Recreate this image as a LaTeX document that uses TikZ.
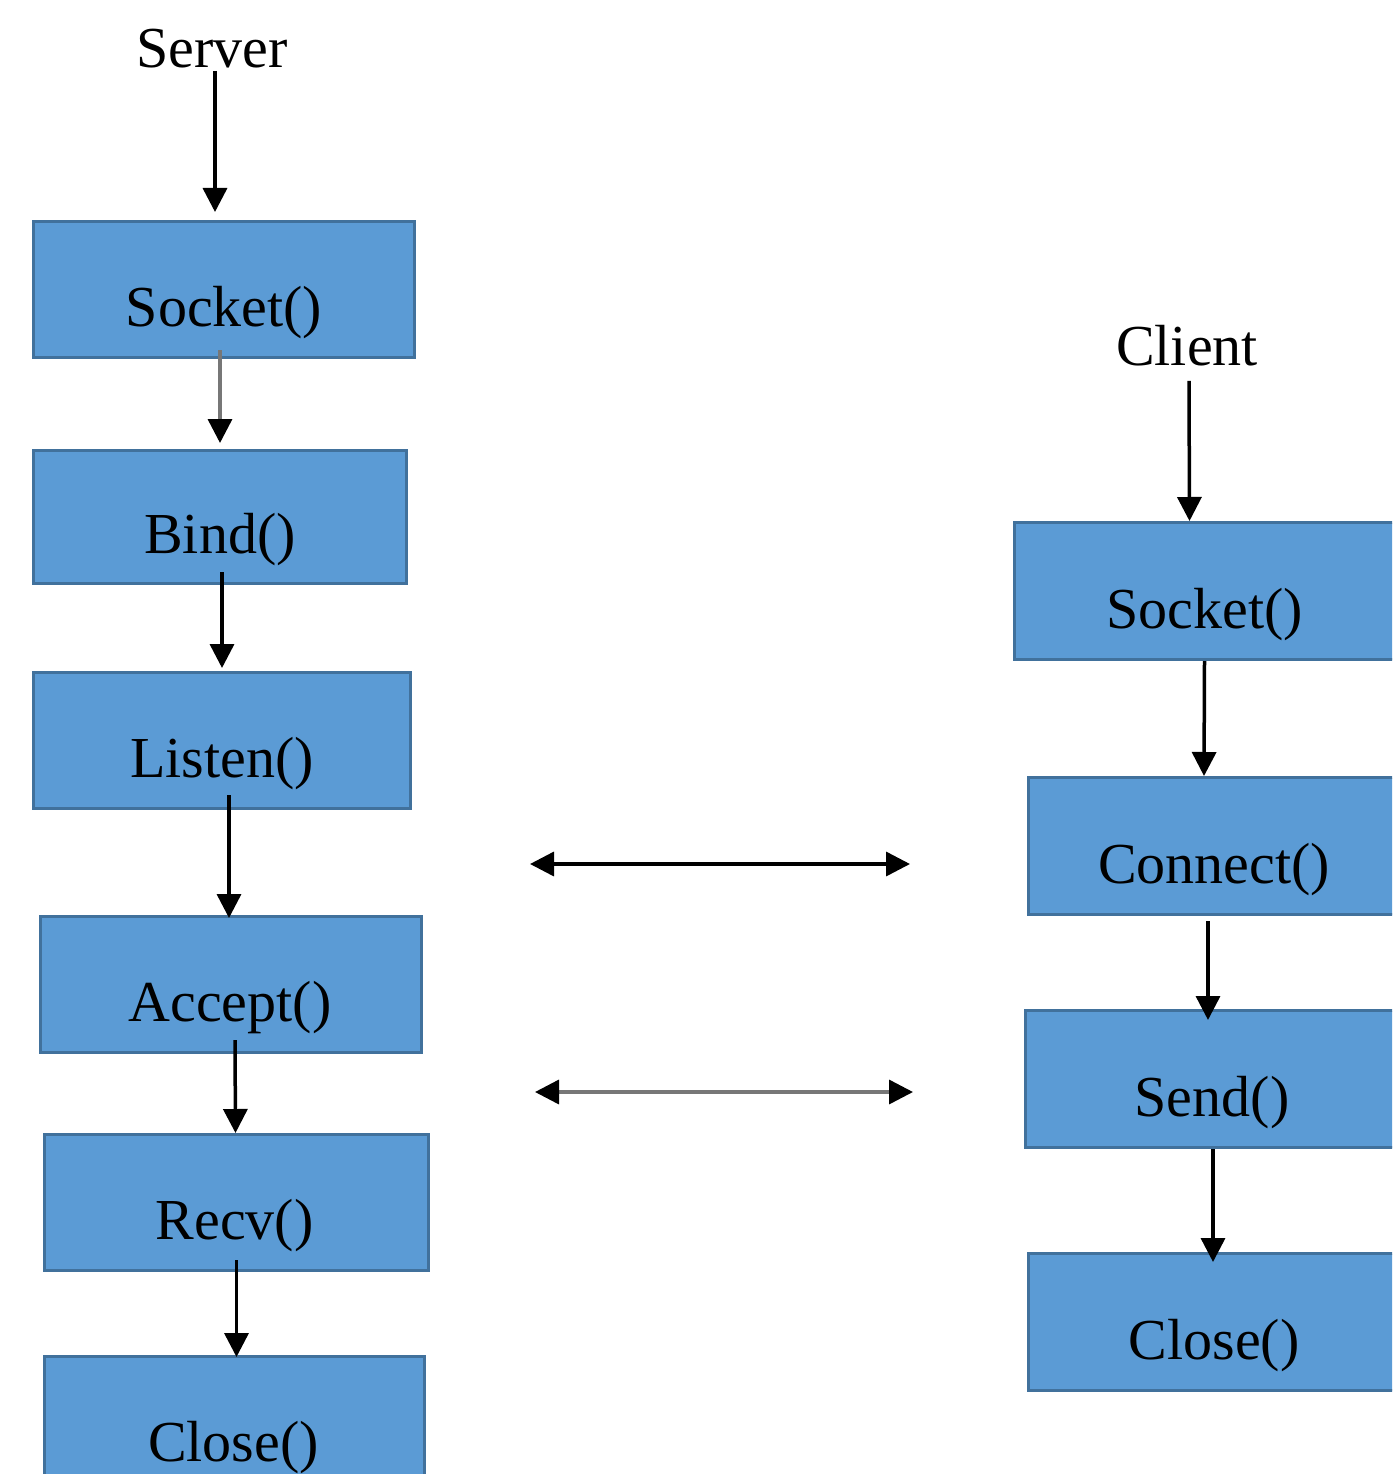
\documentclass[tikz,border=0pt]{standalone}
\usepackage{fontspec}
\setmainfont{Liberation Serif}
\usetikzlibrary{arrows.meta}
\definecolor{boxfill}{HTML}{5B9BD5}
\definecolor{boxline}{HTML}{41719C}
\definecolor{lgray}{HTML}{777777}
\tikzset{
  box/.style={draw=boxline, fill=boxfill, line width=3pt, inner sep=0pt, minimum width=#1},
  box/.default=380pt,
  lbl/.style={font=\fontsize{58}{68}\selectfont, inner sep=0pt, anchor=base, text=black},
  arr/.style={line width=3.5pt, -{Triangle[length=24pt,width=24pt,color=black]}},
  darr/.style={line width=3.5pt, {Triangle[length=24pt,width=24pt,color=black]}-{Triangle[length=24pt,width=24pt,color=black]}},
}
\begin{document}
\begin{tikzpicture}[x=1pt,y=-1pt]
\useasboundingbox (0,0) rectangle (1392,1474);
\clip (0,0) rectangle (1392,1474);
% server column
\node[lbl] (server) at (212,68) {Server};
\node[box=381pt, minimum height=136pt] (ss) at (224,289.5) {};
\node[box=373pt, minimum height=133pt] (sb) at (220,517) {};
\node[box=377pt, minimum height=136pt] (sl) at (222,740.5) {};
\node[box=381pt, minimum height=136pt] (sa) at (231,984.5) {};
\node[box=384pt, minimum height=136pt] (sr) at (236.5,1202.5) {};
\node[box=380pt, minimum height=136pt] (sc) at (234.5,1424.5) {};
\node[lbl] (sst) at ([yshift=-37pt]ss.center) {Socket()};
\node[lbl] (sbt) at ([yshift=-36pt]sb.center) {Bind()};
\node[lbl] (slt) at ([yshift=-37pt]sl.center) {Listen()};
\node[lbl] (sat) at ([yshift=-37pt,xshift=-1pt]sa.center) {Accept()};
\node[lbl] (srt) at ([yshift=-37pt,xshift=-2pt]sr.center) {Recv()};
\node[lbl] (sct) at ([yshift=-37pt,xshift=-1pt]sc.center) {Close()};
% client column
\node[lbl] (client) at (1187,365) {Client};
\node[box=384pt, minimum height=137pt] (cs) at (1206.5,591) {};
\node[box=371pt, minimum height=137pt] (cc) at (1214,846) {};
\node[box=373pt, minimum height=137pt] (cn) at (1212,1079) {};
\node[box=371pt, minimum height=137pt] (cl) at (1214,1322) {};
\node[lbl] (cst) at ([yshift=-37pt,xshift=-2pt]cs.center) {Socket()};
\node[lbl] (cct) at ([yshift=-37pt]cc.center) {Connect()};
\node[lbl] (cnt) at ([yshift=-37pt]cn.center) {Send()};
\node[lbl] (clt) at ([yshift=-37pt]cl.center) {Close()};
% server arrows
\draw[arr] ([xshift=3pt,yshift=-2pt]server.south) -- ([xshift=-9pt,yshift=8pt]ss.north);
\draw[arr, draw=lgray] ([xshift=-4pt,yshift=9pt]ss.south) -- ([yshift=6pt]sb.north);
\draw[arr] ([xshift=2pt,yshift=13pt]sb.south) -- ([yshift=3pt]sl.north);
\draw[arr] ([xshift=7pt,yshift=15pt]sl.south) -- ([xshift=-2pt,yshift=-3pt]sa.north);
\draw[arr] ([xshift=4pt,yshift=14pt]sa.south) -- ([xshift=-1pt,yshift=0pt]sr.north);
\draw[arr] ([xshift=0pt,yshift=12pt]sr.south) -- ([xshift=2pt,yshift=-2pt]sc.north);
% client arrows
\draw[arr] ([xshift=2pt,yshift=-15pt]client.south) -- ([xshift=-17pt,yshift=0pt]cs.north);
\draw[arr] ([xshift=-2pt]cs.south) -- ([xshift=-10pt,yshift=0pt]cc.north);
\draw[arr] ([xshift=-6pt,yshift=-5pt]cc.south) -- ([xshift=-4pt,yshift=-11pt]cn.north);
\draw[arr] ([xshift=1pt]cn.south) -- ([xshift=-1pt,yshift=-10pt]cl.north);
% message arrows
\coordinate (h1l) at (530,864);
\coordinate (h1r) at (910,864);
\coordinate (h2l) at (535,1092);
\coordinate (h2r) at (913,1092);
\draw[darr] (h1l) -- (h1r);
\draw[darr, draw=lgray] (h2l) -- (h2r);
\end{tikzpicture}
\end{document}
